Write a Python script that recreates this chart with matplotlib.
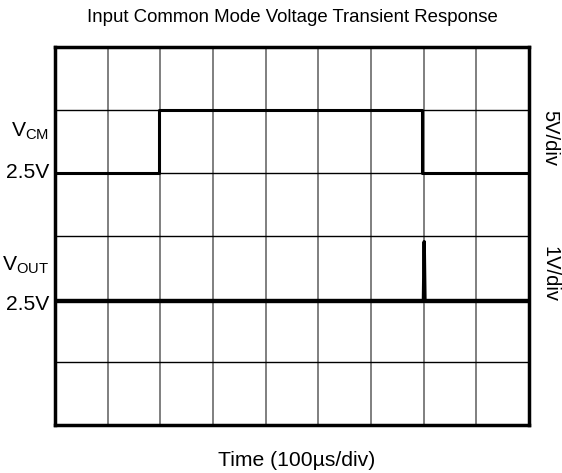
import matplotlib
matplotlib.use("Agg")
from matplotlib import pyplot as plt

plt.rcParams['font.family'] = ['Liberation Sans', 'DejaVu Sans']
plt.rcParams['mathtext.fontset'] = 'custom'
plt.rcParams['mathtext.rm'] = 'Liberation Sans'

# scope traces, in screen divisions (9 x 6 grid)
vcm_t = [0, 1.98, 1.98, 6.96, 6.96, 9]
vcm_v = [4.0, 4.0, 5.0, 5.0, 4.0, 4.0]
vout_t = [0, 6.995, 7.01, 7.025, 9]
vout_v = [1.96, 1.96, 2.91, 1.96, 1.96]

n_xdiv = 9
n_ydiv = 6

W, H = 562, 473
fig = plt.figure(figsize=(W / 100, H / 100), dpi=100)
ax = fig.add_axes([55 / W, 48 / H, 474 / W, 378 / H])

for i in range(1, n_xdiv):
    ax.axvline(i, color='#7f7f7f', lw=1.4, zorder=1)
for j in range(1, n_ydiv):
    ax.axhline(j, color='black', lw=1.0, zorder=1)

ax.plot(vcm_t, vcm_v, color='black', lw=2.2, zorder=3)
ax.plot(vout_t, vout_v, color='black', lw=2.4, zorder=3)

ax.set_xlim(0, n_xdiv)
ax.set_ylim(0, n_ydiv)
ax.set_xticks([])
ax.set_yticks([])
for s in ax.spines.values():
    s.set_linewidth(2.5)
    s.set_color('black')


def px(x, y):
    return x / W, 1 - y / H


fs = 15.2
fig.text(*px(292, 17), 'Input Common Mode Voltage Transient Response',
         ha='center', va='center', fontsize=13.4)
fig.text(*px(297, 460), 'Time (100\u00b5s/div)', ha='center', va='center', fontsize=fs)
fig.text(*px(49, 131), r'V$_{\mathrm{CM}}$', ha='right', va='center', fontsize=fs)
fig.text(*px(49, 172), '2.5V', ha='right', va='center', fontsize=fs)
fig.text(*px(49, 265), r'V$_{\mathrm{OUT}}$', ha='right', va='center', fontsize=fs)
fig.text(*px(49, 304), '2.5V', ha='right', va='center', fontsize=fs)
fig.text(*px(550, 138), '5V/div', ha='center', va='center', fontsize=14.5, rotation=-90)
fig.text(*px(550, 274), '1V/div', ha='center', va='center', fontsize=14.5, rotation=-90)

fig.savefig('out.png', dpi=100)
